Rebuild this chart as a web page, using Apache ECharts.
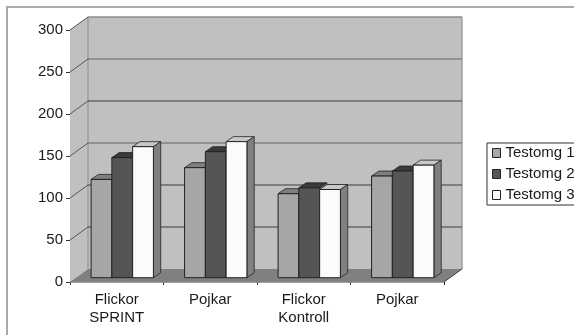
<!DOCTYPE html>
<html>
<head>
<meta charset="utf-8">
<style>
  html, body { margin: 0; padding: 0; background: #fff; overflow: hidden; }
  #chart { width: 574px; height: 335px; }
</style>
</head>
<body>
<div id="chart"></div>
<script src="https://cdn.jsdelivr.net/npm/echarts@6/dist/echarts.min.js"></script>
<script>
const categories = ['Flickor\nSPRINT', 'Pojkar', 'Flickor\nKontroll', 'Pojkar'];
const seriesNames = ['Testomg 1', 'Testomg 2', 'Testomg 3'];
const testomg1 = [117, 131, 100, 121];
const testomg2 = [143, 150, 107, 127];
const testomg3 = [156, 162, 105, 134];
const yTicks = [0, 50, 100, 150, 200, 250, 300];

// pseudo 3D offsets in pixels
const wallDx = 18, wallDy = -13;
const barDx = 5.5, barDy = -4.3;
const depthDx = 7.3, depthDy = -5;

const poly = (points, fill, stroke, width) => ({
  type: 'polygon',
  shape: { points: points },
  style: { fill: fill, stroke: stroke || 'none', lineWidth: width || 0 }
});
const line = (a, b, stroke, width) => ({
  type: 'line',
  shape: { x1: a[0], y1: a[1], x2: b[0], y2: b[1] },
  style: { stroke: stroke, lineWidth: width, fill: 'none' }
});

// walls, floor and gridlines
function renderWalls(params, api) {
  const children = [];
  const grid = params.coordSys;
  const x0 = grid.x, x1 = grid.x + grid.width;
  const yTop = grid.y, yBottom = grid.y + grid.height;
  const tick = api.value(0);
  const y = api.coord([0, tick])[1];
  if (params.dataIndex === 0) {
    children.push(poly([[x0, yTop], [x0 + wallDx, yTop + wallDy], [x0 + wallDx, yBottom + wallDy], [x0, yBottom]], '#c0c0c0'));
    children.push(poly([[x0 + wallDx, yTop + wallDy], [x1 + wallDx, yTop + wallDy], [x1 + wallDx, yBottom + wallDy], [x0 + wallDx, yBottom + wallDy]], '#c0c0c0'));
    children.push(poly([[x0, yBottom], [x0 + wallDx, yBottom + wallDy], [x1 + wallDx, yBottom + wallDy], [x1, yBottom]], '#808080'));
    children.push(line([x0 + wallDx, yTop + wallDy], [x0 + wallDx, yBottom + wallDy], '#8c8c8c', 1));
    children.push(line([x1 + wallDx, yTop + wallDy], [x1 + wallDx, yBottom + wallDy], '#a0a0a0', 1.5));
    children.push(line([x0, yBottom], [x1, yBottom], '#808080', 1.5));
  }
  if (tick > 0) {
    const thick = tick === 250 || tick === 150 || tick === 300;
    const col = tick === 300 ? '#8c8c8c' : (thick ? '#808080' : '#3c3c3c');
    children.push(line([x0, y], [x0 + wallDx, y + wallDy], '#555', 1));
    children.push(line([x0 + wallDx, y + wallDy], [x1 + wallDx, y + wallDy], col, thick ? 1.5 : 1));
  } else {
    children.push(line([x1, y], [x1 + wallDx, y + wallDy], '#444', 1));
  }
  return { type: 'group', children: children };
}

// one bar with front, top and side faces
function barRenderer(index, front, top, side) {
  return function (params, api) {
    const catX = api.coord([api.value(0), 0])[0];
    const band = api.size([1, 0])[0];
    const w = band / 4.5;
    const left = catX + barDx + (index - 1.5) * w;
    const right = left + w;
    const base = api.coord([0, 0])[1] + barDy;
    const ty = api.coord([0, api.value(1)])[1] + barDy;
    const edge = '#222';
    return {
      type: 'group',
      children: [
        poly([[left, ty], [left + depthDx, ty + depthDy], [right + depthDx, ty + depthDy], [right, ty]], top, edge, 0.8),
        poly([[right, ty], [right + depthDx, ty + depthDy], [right + depthDx, base + depthDy], [right, base]], side, edge, 0.8),
        poly([[left, ty], [right, ty], [right, base], [left, base]], front, edge, 1)
      ]
    };
  };
}

function barSeries(index, values, front, top, side) {
  return {
    name: seriesNames[index],
    type: 'custom',
    clip: false,
    z: 3 + index,
    itemStyle: { color: front },
    encode: { x: 0, y: 1 },
    renderItem: barRenderer(index, front, top, side),
    data: values.map((v, i) => [i, v])
  };
}

const chart = echarts.init(document.getElementById('chart'), null, { renderer: 'canvas' });
chart.setOption({
  animation: false,
  backgroundColor: '#fff',
  textStyle: { fontFamily: 'Liberation Sans' },
  grid: { left: 70, top: 30, width: 374, height: 252, containLabel: false },
  xAxis: {
    type: 'category',
    data: categories,
    axisLine: { show: false },
    axisTick: { show: true, length: 3, alignWithLabel: false, lineStyle: { color: '#333' } },
    axisLabel: { color: '#1a1a1a', fontSize: 15, lineHeight: 18, margin: 9, interval: 0 },
    splitLine: { show: false }
  },
  yAxis: {
    type: 'value',
    min: 0,
    max: 300,
    interval: 50,
    axisLine: { show: true, lineStyle: { color: '#808080', width: 1 } },
    axisTick: { show: true, length: 4, lineStyle: { color: '#333' } },
    axisLabel: { color: '#1a1a1a', fontSize: 15, margin: 7 },
    splitLine: { show: false }
  },
  legend: {
    data: seriesNames,
    orient: 'vertical',
    left: 487,
    top: 143,
    padding: [2, 14, 2, 5],
    itemWidth: 8,
    itemHeight: 9,
    itemGap: 5,
    icon: 'rect',
    backgroundColor: '#fff',
    borderColor: '#333',
    borderWidth: 1,
    borderRadius: 0,
    itemStyle: { borderColor: '#222', borderWidth: 1 },
    textStyle: { color: '#1a1a1a', fontSize: 15, lineHeight: 16, fontFamily: 'Liberation Sans' }
  },
  graphic: [{
    type: 'polyline',
    silent: true,
    shape: { points: [[7, 335], [7, 7], [574, 7]] },
    style: { stroke: '#aaaaaa', lineWidth: 2, fill: 'none' }
  }],
  series: [
    {
      type: 'custom',
      name: 'walls',
      clip: false,
      z: 1,
      silent: true,
      encode: { y: 0 },
      renderItem: renderWalls,
      data: yTicks.map(t => [t])
    },
    barSeries(0, testomg1, '#a6a6a6', '#7f7f7f', '#7f7f7f'),
    barSeries(1, testomg2, '#555555', '#3a3a3a', '#7f7f7f'),
    barSeries(2, testomg3, '#fbfbfb', '#c8c8c8', '#808080')
  ]
});
</script>
</body>
</html>
